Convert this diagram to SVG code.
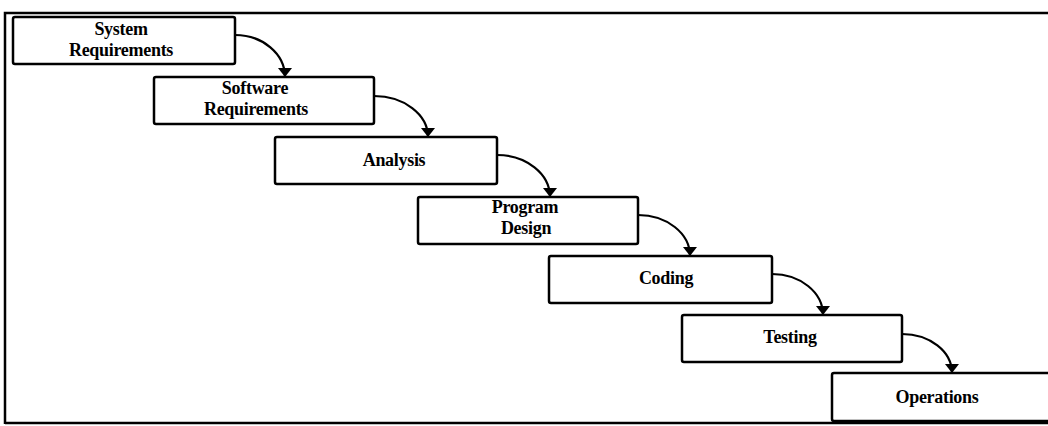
<svg xmlns="http://www.w3.org/2000/svg" width="1048" height="426" viewBox="0 0 1048 426">
  <style>
    .box { fill: #ffffff; stroke: #000000; stroke-width: 2.5; }
    .lbl { font-family: "Liberation Serif", "Times New Roman", serif; font-weight: bold; font-size: 18px; fill: #000000; text-anchor: middle; letter-spacing: -0.3px; }
    .conn { fill: none; stroke: #000000; stroke-width: 2.2; }
    .frame { fill: none; stroke: #000000; stroke-width: 2.5; }
  </style>
  <defs>
    <marker id="arrow" viewBox="0 0 9 14" refX="9" refY="7" markerWidth="9" markerHeight="14" markerUnits="userSpaceOnUse" orient="auto">
      <path d="M0,0 L9,7 L0,14 z" fill="#000000"/>
    </marker>
  </defs>
  <rect x="0" y="0" width="1048" height="426" fill="#ffffff"/>
  <g id="frame">
    <path class="frame" d="M5,424 L5,13 L1048,13"/>
    <path class="frame" d="M5,423 L1048,423"/>
  </g>
  <g id="connectors">
    <path class="conn" d="M235,35 A50,42 0 0 1 285,77" marker-end="url(#arrow)"/>
    <path class="conn" d="M374,96 A54,41 0 0 1 428,137" marker-end="url(#arrow)"/>
    <path class="conn" d="M497,155 A53,42 0 0 1 550,197" marker-end="url(#arrow)"/>
    <path class="conn" d="M638,215 A52,41 0 0 1 690,256" marker-end="url(#arrow)"/>
    <path class="conn" d="M772,274 A51,41 0 0 1 823,315" marker-end="url(#arrow)"/>
    <path class="conn" d="M902,334 A50,39 0 0 1 952,373" marker-end="url(#arrow)"/>
  </g>
  <g id="system-requirements">
    <rect class="box" x="13" y="17" width="222" height="47" rx="2"/>
    <text class="lbl" x="121" y="35">System</text>
    <text class="lbl" x="121" y="56">Requirements</text>
  </g>
  <g id="software-requirements">
    <rect class="box" x="154" y="77" width="220" height="47" rx="2"/>
    <text class="lbl" x="255" y="94">Software</text>
    <text class="lbl" x="256" y="115">Requirements</text>
  </g>
  <g id="analysis">
    <rect class="box" x="275" y="137" width="222" height="47" rx="2"/>
    <text class="lbl" x="394" y="166">Analysis</text>
  </g>
  <g id="program-design">
    <rect class="box" x="418" y="197" width="220" height="47" rx="2"/>
    <text class="lbl" x="525" y="213">Program</text>
    <text class="lbl" x="526" y="234">Design</text>
  </g>
  <g id="coding">
    <rect class="box" x="549" y="256" width="223" height="47" rx="2"/>
    <text class="lbl" x="666" y="284">Coding</text>
  </g>
  <g id="testing">
    <rect class="box" x="682" y="315" width="220" height="47" rx="2"/>
    <text class="lbl" x="790" y="343">Testing</text>
  </g>
  <g id="operations">
    <rect class="box" x="832" y="373" width="230" height="48" rx="2"/>
    <text class="lbl" x="937" y="403">Operations</text>
  </g>
</svg>
